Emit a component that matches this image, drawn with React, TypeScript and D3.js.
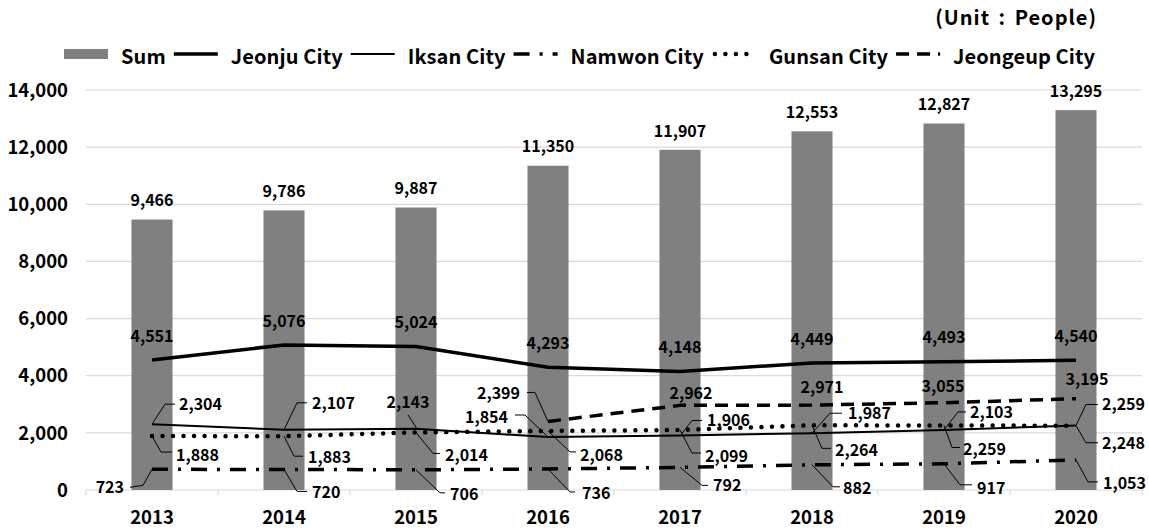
import { useEffect, useRef } from "react";
import * as d3 from "d3";

const years = ["2013", "2014", "2015", "2016", "2017", "2018", "2019", "2020"];
const sumValues = [9466, 9786, 9887, 11350, 11907, 12553, 12827, 13295];
const jeonju = [4551, 5076, 5024, 4293, 4148, 4449, 4493, 4540];
const iksan = [2304, 2107, 2143, 1854, 1906, 1987, 2103, 2259];
const namwon = [723, 720, 706, 736, 792, 882, 917, 1053];
const gunsan = [1888, 1883, 2014, 2068, 2099, 2264, 2259, 2248];
const jeongeup = [null, null, null, 2399, 2962, 2971, 3055, 3195];
const yTicks = [0, 2000, 4000, 6000, 8000, 10000, 12000, 14000];

// label placement relative to the point: [dx, dy, anchor, leader path]
type Place = [number, number, string, [number, number][]?];

const jeonjuPlace: Place[] = years.map(() => [0, -24, "middle"]);
const iksanPlace: Place[] = [
  [27, -20, "start", [[0, 0], [13, -20], [23, -20]]],
  [28, -27, "start", [[0, 0], [13, -27], [23, -27]]],
  [-8, -27, "middle", [[-8, -14], [1, 0]]],
  [-40, -20, "end", [[-33, -22], [-23, -22], [0, 0]]],
  [27, -15, "start", [[2, -2], [12, -15], [22, -15]]],
  [36, -20, "start", [[0, 0], [18, -20], [30, -20]]],
  [26, -18, "start", [[0, 0], [14, -18], [22, -18]]],
  [26, -21, "start", [[0, 0], [10, -21], [22, -21]]],
];
const gunsanPlace: Place[] = [
  [24, 19, "start", [[0, 0], [9, 16], [20, 16]]],
  [24, 21, "start", [[0, 0], [10, 20], [19, 20]]],
  [29, 23, "start", [[0, 0], [17, 21], [24, 21]]],
  [32, 24, "start", [[0, 0], [22, 21], [28, 21]]],
  [25, 26, "start", [[0, 0], [12, 23], [21, 23]]],
  [23, 25, "start", [[0, 0], [10, 23], [19, 23]]],
  [19, 24, "start", [[0, 0], [8, 22], [16, 22]]],
  [26, 17, "start", [[0, 0], [10, 17], [22, 17]]],
];
const namwonPlace: Place[] = [
  [-28, 18, "end", [[0, 0], [-9, 16], [-22, 18]]],
  [28, 23, "start", [[0, 0], [13, 22], [23, 22]]],
  [34, 24, "start", [[0, 0], [24, 23], [29, 23]]],
  [34, 24, "start", [[0, 0], [22, 23], [27, 23]]],
  [33, 18, "start", [[0, 0], [22, 18], [28, 18]]],
  [31, 23, "start", [[0, 0], [21, 22], [28, 22]]],
  [33, 24, "start", [[0, 0], [16, 21], [28, 21]]],
  [27, 23, "start", [[0, 0], [12, 22], [22, 22]]],
];
const jeongeupPlace: Place[] = [
  [0, 0, "middle"],
  [0, 0, "middle"],
  [0, 0, "middle"],
  [-28, -28, "end", [[0, 0], [-13, -29], [-21, -29]]],
  [11, -12, "middle"],
  [10, -18, "middle"],
  [-1, -16, "middle"],
  [11, -19, "middle"],
];

const FONT = "'Noto Sans CJK KR', 'Noto Sans', sans-serif";

const seriesDefs = [
  { name: "Jeonju City", values: jeonju, width: 3.5, dash: null, cap: "butt", place: jeonjuPlace },
  { name: "Iksan City", values: iksan, width: 2, dash: null, cap: "butt", place: iksanPlace },
  { name: "Namwon City", values: namwon, width: 3.5, dash: "16,10,3,10", cap: "butt", place: namwonPlace },
  { name: "Gunsan City", values: gunsan, width: 4.5, dash: "0.01,10.5", cap: "round", place: gunsanPlace },
  { name: "Jeongeup City", values: jeongeup, width: 3.5, dash: "13,8", cap: "butt", place: jeongeupPlace },
];

export default function App() {
  const ref = useRef<SVGSVGElement>(null);

  useEffect(() => {
    const svg = d3.select(ref.current);
    svg.selectAll("*").remove();

    const width = 1149;
    const height = 530;
    const left = 86;
    const right = 1142;

    const x = d3.scaleBand().domain(years).range([left, right]).paddingInner(0.689).paddingOuter(0.3445);
    const cx = (yr: string) => (x(yr) as number) + x.bandwidth() / 2;
    const y = d3.scaleLinear().domain([0, 14000]).range([490, 90]);
    const fmt = d3.format(",");

    svg.attr("width", width).attr("height", height).style("font-family", FONT);

    // grid
    svg
      .append("g")
      .selectAll("line")
      .data(yTicks)
      .enter()
      .append("line")
      .attr("x1", left)
      .attr("x2", right)
      .attr("y1", (d) => y(d))
      .attr("y2", (d) => y(d))
      .attr("stroke", "#d9d9d9")
      .attr("stroke-width", 1.2);

    // category tick marks
    const step = x.step();
    svg
      .append("g")
      .selectAll("line")
      .data(d3.range(years.length + 1))
      .enter()
      .append("line")
      .attr("x1", (i) => left + i * step)
      .attr("x2", (i) => left + i * step)
      .attr("y1", y(0))
      .attr("y2", y(0) + 5)
      .attr("stroke", "#d9d9d9")
      .attr("stroke-width", 1.2);

    // y labels
    svg
      .append("g")
      .selectAll("text")
      .data(yTicks)
      .enter()
      .append("text")
      .attr("x", 68)
      .attr("y", (d) => y(d))
      .attr("dy", "0.36em")
      .attr("text-anchor", "end")
      .style("font-size", "18.5px")
      .style("font-weight", 700)
      .text((d) => fmt(d));

    // x labels
    svg
      .append("g")
      .selectAll("text")
      .data(years)
      .enter()
      .append("text")
      .attr("x", (d) => cx(d))
      .attr("y", 517)
      .attr("dy", "0.36em")
      .attr("text-anchor", "middle")
      .style("font-size", "18.5px")
      .style("font-weight", 700)
      .text((d) => d);

    // bars
    svg
      .append("g")
      .selectAll("rect")
      .data(sumValues)
      .enter()
      .append("rect")
      .attr("x", (d, i) => x(years[i]) as number)
      .attr("y", (d) => y(d))
      .attr("width", x.bandwidth())
      .attr("height", (d) => y(0) - y(d))
      .attr("fill", "#808080");

    svg
      .append("g")
      .selectAll("text")
      .data(sumValues)
      .enter()
      .append("text")
      .attr("x", (d, i) => cx(years[i]))
      .attr("y", (d) => y(d) - 19)
      .attr("dy", "0.36em")
      .attr("text-anchor", "middle")
      .style("font-size", "16px")
      .style("font-weight", 700)
      .text((d) => fmt(d));

    // lines
    const line = d3
      .line<{ yr: string; v: number | null }>()
      .defined((d) => d.v != null)
      .x((d) => cx(d.yr))
      .y((d) => y(d.v as number));

    seriesDefs.forEach((s) => {
      const pts = s.values.map((v, i) => ({ yr: years[i], v }));
      svg
        .append("path")
        .datum(pts)
        .attr("fill", "none")
        .attr("stroke", "#000")
        .attr("stroke-width", s.width)
        .attr("stroke-dasharray", s.dash)
        .attr("stroke-linecap", s.cap)
        .attr("stroke-linejoin", "round")
        .attr("d", line);
    });

    // data labels + leader lines
    seriesDefs.forEach((s) => {
      s.values.forEach((v, i) => {
        if (v == null) return;
        const px = cx(years[i]);
        const py = y(v);
        const [dx, dy, anchor, leader] = s.place[i];
        if (leader) {
          svg
            .append("path")
            .attr("d", d3.line()(leader.map(([a, b]) => [px + a, py + b])))
            .attr("fill", "none")
            .attr("stroke", "#000")
            .attr("stroke-width", 1);
        }
        svg
          .append("text")
          .attr("x", px + dx)
          .attr("y", py + dy)
          .attr("dy", "0.36em")
          .attr("text-anchor", anchor)
          .style("font-size", "16px")
          .style("font-weight", 700)
          .text(fmt(v));
      });
    });

    // legend
    const legend = svg.append("g");
    const symY = 54;
    let lx = 64;
    const items = [{ name: "Sum", bar: true, s: null as any }, ...seriesDefs.map((s) => ({ name: s.name, bar: false, s }))];
    items.forEach((it) => {
      if (it.bar) {
        legend.append("rect").attr("x", lx).attr("y", symY - 5).attr("width", 44).attr("height", 10).attr("fill", "#808080");
      } else {
        legend
          .append("line")
          .attr("x1", lx + (it.s.cap === "round" ? 3 : 0))
          .attr("x2", lx + 44)
          .attr("y1", symY)
          .attr("y2", symY)
          .attr("stroke", "#000")
          .attr("stroke-width", it.s.width)
          .attr("stroke-dasharray", it.s.dash)
          .attr("stroke-linecap", it.s.cap);
      }
      lx += 44 + 13;
      const t = legend
        .append("text")
        .attr("x", lx)
        .attr("y", 57)
        .attr("dy", "0.36em")
        .style("font-size", "20px")
        .style("font-weight", 700)
        .style("letter-spacing", "0.1px")
        .text(it.name);
      lx += (t.node() as SVGTextElement).getComputedTextLength() + 8;
    });

    svg
      .append("text")
      .attr("x", 1097)
      .attr("y", 18)
      .attr("dy", "0.36em")
      .attr("text-anchor", "end")
      .style("font-size", "20px")
      .style("font-weight", 700)
      .style("letter-spacing", "1px")
      .style("word-spacing", "3px")
      .text("(Unit : People)");
  }, []);

  return <svg ref={ref} style={{ position: "absolute", left: 0, top: 0 }} />;
}
